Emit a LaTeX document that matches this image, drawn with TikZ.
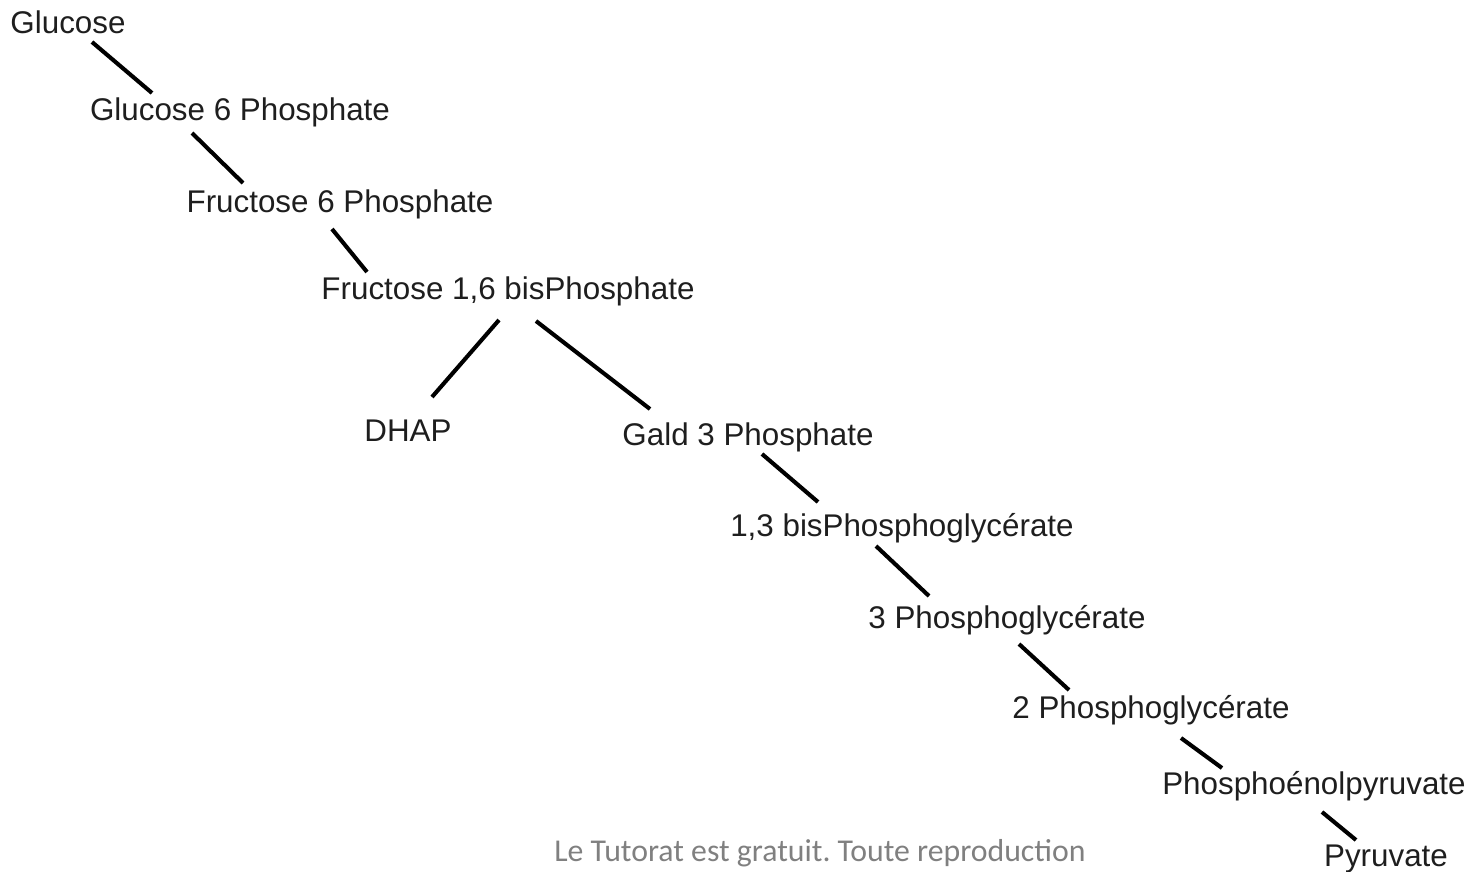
\documentclass[tikz,border=0pt]{standalone}
\usepackage{fontspec}
\setmainfont{Liberation Sans}
\newfontfamily\markfont{Carlito}
\usetikzlibrary{calc}
\definecolor{markgray}{RGB}{128,128,128}
\definecolor{molink}{RGB}{30,30,30}
\tikzset{
  mol/.style={anchor=base,inner sep=0pt,text=molink,font=\fontsize{22.3}{26}\selectfont},
  link/.style={line width=2.9pt}
}
\begin{document}
\begin{tikzpicture}[x=0.025cm,y=-0.025cm]
\useasboundingbox (0,0) rectangle (1469,871);
% metabolites
\node[mol] (glc) at (68,33) {Glucose};
\node[mol] (g6p) at (240,120) {Glucose 6 Phosphate};
\node[mol] (f6p) at (340,212) {Fructose 6 Phosphate};
\node[mol] (f16) at (508,299) {Fructose 1,6 bisPhosphate};
\node[mol] (dhap) at (408,441) {DHAP};
\node[mol] (gald) at (748,445) {Gald 3 Phosphate};
\node[mol] (bpg) at (902,536) {1,3 bisPhosphoglycérate};
\node[mol] (pg3) at (1007,628) {3 Phosphoglycérate};
\node[mol] (pg2) at (1151,718) {2 Phosphoglycérate};
\node[mol] (pep) at (1314,794) {Phosphoénolpyruvate};
\node[mol] (pyr) at (1386,866) {Pyruvate};
% steps
\draw[link] ([shift={(24,9)}]glc.base) -- ([shift={(-88,-27)}]g6p.base);
\draw[link] ([shift={(-48,13)}]g6p.base) -- ([shift={(-97,-29)}]f6p.base);
\draw[link] ([shift={(-8,17)}]f6p.base) -- ([shift={(-141,-27)}]f16.base);
\draw[link] ([shift={(-9,21)}]f16.base) -- ([shift={(24,-44)}]dhap.base);
\draw[link] ([shift={(28,22)}]f16.base) -- ([shift={(-98,-36)}]gald.base);
\draw[link] ([shift={(14,9)}]gald.base) -- ([shift={(-84,-34)}]bpg.base);
\draw[link] ([shift={(-26,10)}]bpg.base) -- ([shift={(-78,-32)}]pg3.base);
\draw[link] ([shift={(12,16)}]pg3.base) -- ([shift={(-82,-28)}]pg2.base);
\draw[link] ([shift={(30,20)}]pg2.base) -- ([shift={(-92,-26)}]pep.base);
\draw[link] ([shift={(8,18)}]pep.base) -- ([shift={(-30,-26)}]pyr.base);
% watermark
\node[anchor=base,inner sep=0pt,text=markgray,font=\markfont\fontsize{22.6}{27}\selectfont] (mark) at (820,861) {\frenchspacing Le Tutorat est gratuit. Toute reproduction};
\end{tikzpicture}
\end{document}
